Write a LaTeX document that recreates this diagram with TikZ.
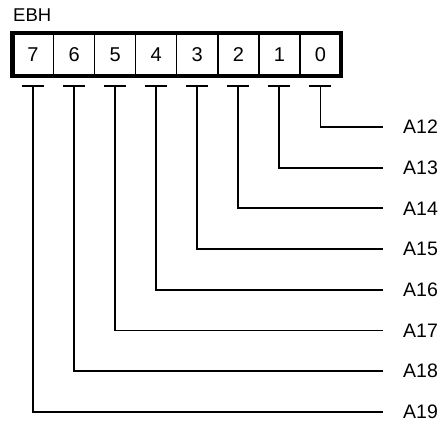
\documentclass[tikz,border=0pt]{standalone}
\usepackage{fontspec}
\setmainfont{Liberation Sans}
\begin{document}
\begin{tikzpicture}[x=1pt,y=-1pt,
  cell/.style={draw=black, line width=1.4pt, minimum width=41.06pt, minimum height=43pt,
    inner sep=0pt, outer sep=0pt, font=\fontsize{20}{20}\selectfont},
  lbl/.style={inner sep=0pt, font=\fontsize{19.5}{19.5}\selectfont},
  title/.style={inner sep=0pt, font=\fontsize{18.5}{18.5}\selectfont},
  wire/.style={line width=1.8pt, draw=black}]
\useasboundingbox (0,0) rectangle (448,425);
\node[title, anchor=base west] (ebh) at (13,22) {EBH};
\foreach \i in {0,...,7} {
  \node[cell] (c\i) at ({12.5+41.06*(7-\i)+20.53}, 54.5) {\i};
}
\draw[line width=4.2pt] (c7.north west) rectangle (c0.south east);
\foreach \i in {0,...,7} {
  \pgfmathtruncatemacro{\an}{12+\i}
  \coordinate (t\i) at ([yshift=-10pt]c\i.south);
  \coordinate (e\i) at (383, {127+40.7*\i});
  \node[lbl, anchor=west] (a\i) at (403, {127+40.7*\i}) {A\an};
  \draw[wire] ([xshift=-11pt]t\i) -- ([xshift=11pt]t\i);
  \draw[wire] (t\i) |- (e\i);
}
\end{tikzpicture}
\end{document}
